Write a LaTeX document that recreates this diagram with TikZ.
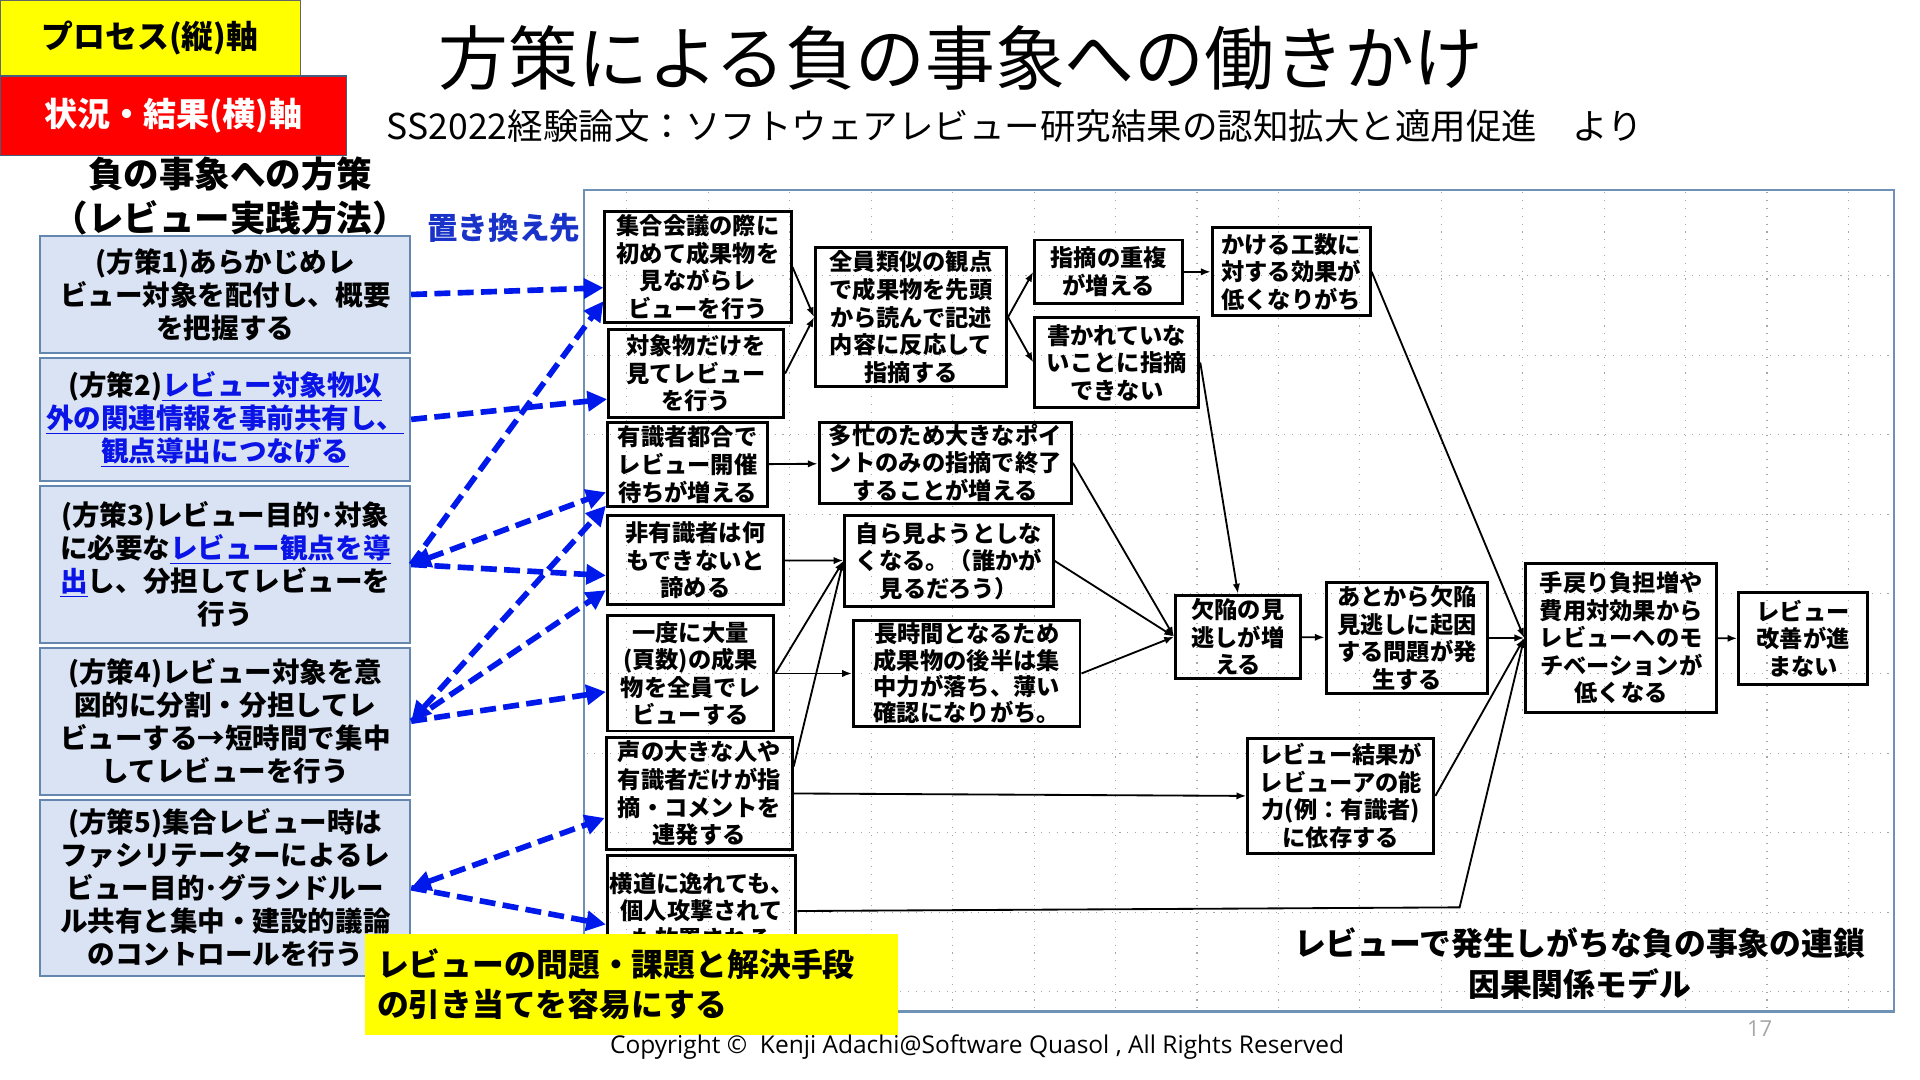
\documentclass[tikz,border=0pt]{standalone}
\usepackage{fontspec}
\setmainfont{Noto Sans CJK JP}
\newfontfamily\cpfont{Open Sans}
\usepackage{xcolor}
\usetikzlibrary{arrows.meta, positioning}

\definecolor{pfill}{RGB}{218,227,243}
\definecolor{pbord}{RGB}{100,135,175}
\definecolor{frm}{RGB}{110,145,180}
\definecolor{lkblue}{RGB}{10,20,230}
\definecolor{dblue}{RGB}{0,25,235}
\definecolor{oki}{RGB}{25,50,200}
\definecolor{kyel}{RGB}{255,255,0}
\definecolor{kred}{RGB}{255,0,0}

\newcommand{\lk}[1]{{\color{lkblue}\underline{#1}}}

\begin{document}
\begin{tikzpicture}[
    x=1pt, y=-1pt,
    ev/.style={rectangle, draw, line width=2.4pt, align=center, inner sep=0pt, font=\bfseries\fontsize{19}{22.5}\selectfont},
    hs/.style={rectangle, draw=pbord, line width=1.6pt, fill=pfill, align=center, inner sep=0pt, minimum width=302pt, font=\bfseries\fontsize{22.5}{27}\selectfont},
    sz/.style 2 args={minimum width=#1pt, minimum height=#2pt},
    grd/.style={gray!70, line width=0.9pt, dash pattern=on 0.9pt off 5.5pt},
    line/.style={draw, -{Latex[length=8pt, width=6pt]}, line width=1.5pt},
    bline/.style={draw=dblue, line width=4.6pt, dash pattern=on 13pt off 6pt, -{Triangle[length=16pt, width=16pt]}},
    twohead/.style={{Triangle[length=16pt, width=16pt]}-{Triangle[length=16pt, width=16pt]}}
]
\useasboundingbox[fill=white] (0,0) rectangle (1568,882);

% Headings
\node [fill=kyel, draw=black!60, line width=0.8pt, sz={245}{62}, font=\bfseries\fontsize{26}{30}\selectfont] (axp) at (122.5,31) {プロセス(縦)軸};
\node [fill=kred, draw=pbord!70!black, line width=1.5pt, sz={283}{65}, text=white, font=\bfseries\fontsize{27}{30}\selectfont] (axs) at (141.5,94.5) {状況・結果(横)軸};
\node [font=\fontsize{57}{60}\selectfont] (ttl) at (785,47) {方策による負の事象への働きかけ};
\node [font=\fontsize{29}{32}\selectfont] (sub) at (829,103) {SS2022経験論文：ソフトウェアレビュー研究結果の認知拡大と適用促進　より};
\node [align=center, font=\bfseries\fontsize{29}{36}\selectfont] (hd) at (188,160) {負の事象への方策\\（レビュー実践方法）};
\node [text=oki, font=\bfseries\fontsize{25}{28}\selectfont] (oki) at (411.5,186) {置き換え先};

% Frame and grid
\foreach \gx in {512,578.5,...,1545} \draw [grd] (\gx,157) -- (\gx,824);
\foreach \gy in {225,290,...,824} \draw [grd] (479,\gy) -- (1545,\gy);
\node [draw=frm, line width=1.8pt, sz={1070}{671}, inner sep=0pt] (frame) at (1012,490.5) {};

% Chain of events
\node [ev, sz={152}{90}] (A1) at (570,218) {集合会議の際に\\初めて成果物を\\見ながらレ\\ビューを行う};
\node [ev, sz={143}{72}] (A2) at (568.5,305) {対象物だけを\\見てレビュー\\を行う};
\node [ev, sz={131}{69}] (A3) at (561.5,379.5) {有識者都合で\\レビュー開催\\待ちが増える};
\node [ev, sz={144}{73}] (A4) at (568,457.5) {非有識者は何\\もできないと\\諦める};
\node [ev, sz={136}{94}] (A5) at (564,550) {一度に大量\\(頁数)の成果\\物を全員でレ\\ビューする};
\node [ev, sz={152}{92}] (A6) at (571,648) {声の大きな人や\\有識者だけが指\\摘・コメントを\\連発する};
\node [ev, sz={154}{90}] (A7) at (573,744) {横道に逸れても、\\個人攻撃されて\\も放置される};

\node [ev, sz={156}{114}] (B1) at (744,259) {全員類似の観点\\で成果物を先頭\\から読んで記述\\内容に反応して\\指摘する};
\node [ev, sz={206}{66}] (B2) at (772,378) {多忙のため大きなポイ\\ントのみの指摘で終了\\することが増える};
\node [ev, sz={170}{74}] (B3) at (775,458) {自ら見ようとしな\\くなる。（誰かが\\見るだろう）};
\node [ev, sz={185}{86}, font=\bfseries\fontsize{19}{21.5}\selectfont] (B4) at (789.5,550) {長時間となるため\\成果物の後半は集\\中力が落ち、薄い\\確認になりがち。};

\node [ev, sz={121}{52}] (C1) at (905.5,222) {指摘の重複\\が増える};
\node [ev, sz={134}{74}] (C2) at (912,296) {書かれていな\\いことに指摘\\できない};
\node [ev, sz={129}{72}] (C3) at (1054.5,222) {かける工数に\\対する効果が\\低くなりがち};

\node [ev, sz={102}{68}] (D1) at (1011,520) {欠陥の見\\逃しが増\\える};
\node [ev, sz={132}{90}] (D2) at (1149,521) {あとから欠陥\\見逃しに起因\\する問題が発\\生する};
\node [ev, sz={152}{94}] (D3) at (1095,650) {レビュー結果が\\レビューアの能\\力(例：有識者)\\に依存する};
\node [ev, sz={156}{122}] (E1) at (1324,521) {手戻り負担増や\\費用対効果から\\レビューへのモ\\チベーションが\\低くなる};
\node [ev, sz={105}{75}] (E2) at (1472.5,521.5) {レビュー\\改善が進\\まない};

\coordinate (kink) at (1192,741);

% Edges
\path [line] (A1.east) -- (B1.west);
\path [line] (A2.east) -- (B1.west);
\path [line] (B1.east) -- (C1.west);
\path [line] (B1.east) -- (C2.west);
\path [line] (C1) -- (C3);
\path [line] (A3) -- (B2);
\path [line] (A4) -- (B3);
\path [line] (A5.east) -- (B3.west);
\path [line] (A5) -- (B4);
\path [line] ([yshift=22pt]A6.east) -- (B3.west);
\path [line] (A6.east) -- (D3.west);
\path [line] (A7.east) -- (kink) -- (E1.west);
\path [line] (B2.east) -- (D1.west);
\path [line] (B3.east) -- (D1.west);
\path [line] (B4.east) -- (D1.west);
\path [line] (C2.east) -- (D1.north);
\path [line] (D1) -- (D2);
\path [line] (D2) -- (E1);
\path [line] (C3.east) -- (E1.west);
\path [line] (D3.east) -- (E1.west);
\path [line] (E1) -- (E2);

% Policies
\node [hs, minimum height=95pt] (P1) at (184,240.5) {(方策1)あらかじめレ\\ビュー対象を配付し、概要\\を把握する};
\node [hs, minimum height=101pt] (P2) at (184,342.5) {(方策2)\lk{レビュー対象物以}\\\lk{外の関連情報を事前共有し、}\\\lk{観点導出につなげる}};
\node [hs, minimum height=128pt] (P3) at (184,461) {(方策3)レビュー目的･対象\\に必要な\lk{レビュー観点を導}\\\lk{出}し、分担してレビューを\\行う};
\node [hs, minimum height=120pt] (P4) at (184,589) {(方策4)レビュー対象を意\\図的に分割・分担してレ\\ビューする→短時間で集中\\してレビューを行う};
\node [hs, minimum height=144pt] (P5) at (184,725) {(方策5)集合レビュー時は\\ファシリテーターによるレ\\ビュー目的･グランドルー\\ル共有と集中・建設的議論\\のコントロールを行う};

% Replacement arrows
\path [bline] (P1.east) -- ([yshift=-17pt]A1.west);
\path [bline] (P2.east) -- ([yshift=-21pt]A2.west);
\path [bline] (P3.east) -- ([yshift=-28pt]A1.west);
\path [bline, twohead] (P3.east) -- ([yshift=-22.5pt]A3.west);
\path [bline] (P3.east) -- ([yshift=-12.5pt]A4.west);
\path [bline, twohead] (P4.east) -- ([yshift=-33.5pt]A3.west);
\path [bline] (P4.east) -- ([yshift=-24.5pt]A4.west);
\path [bline] (P4.east) -- ([yshift=-15pt]A5.west);
\path [bline, twohead] (P5.east) -- ([yshift=-20pt]A6.west);
\path [bline] (P5.east) -- ([yshift=-11pt]A7.west);

% Notes
\node [fill=kyel, sz={435}{82}, inner sep=0pt, text width=415pt, align=left, font=\bfseries\fontsize{26}{33}\selectfont] (memo) at (515.5,804) {レビューの問題・課題と解決手段\\の引き当てを容易にする};
\node [align=center, font=\bfseries\fontsize{26}{34}\selectfont] (mdl) at (1290,787) {レビューで発生しがちな負の事象の連鎖\\因果関係モデル};
\node [font=\cpfont\fontsize{20}{22}\selectfont] (copy) at (798,855) {Copyright ©\ \ Kenji Adachi@Software Quasol , All Rights Reserved};
\node [text=gray!70, font=\cpfont\fontsize{18}{20}\selectfont] (pg) at (1437,840) {17};
\end{tikzpicture}
\end{document}
